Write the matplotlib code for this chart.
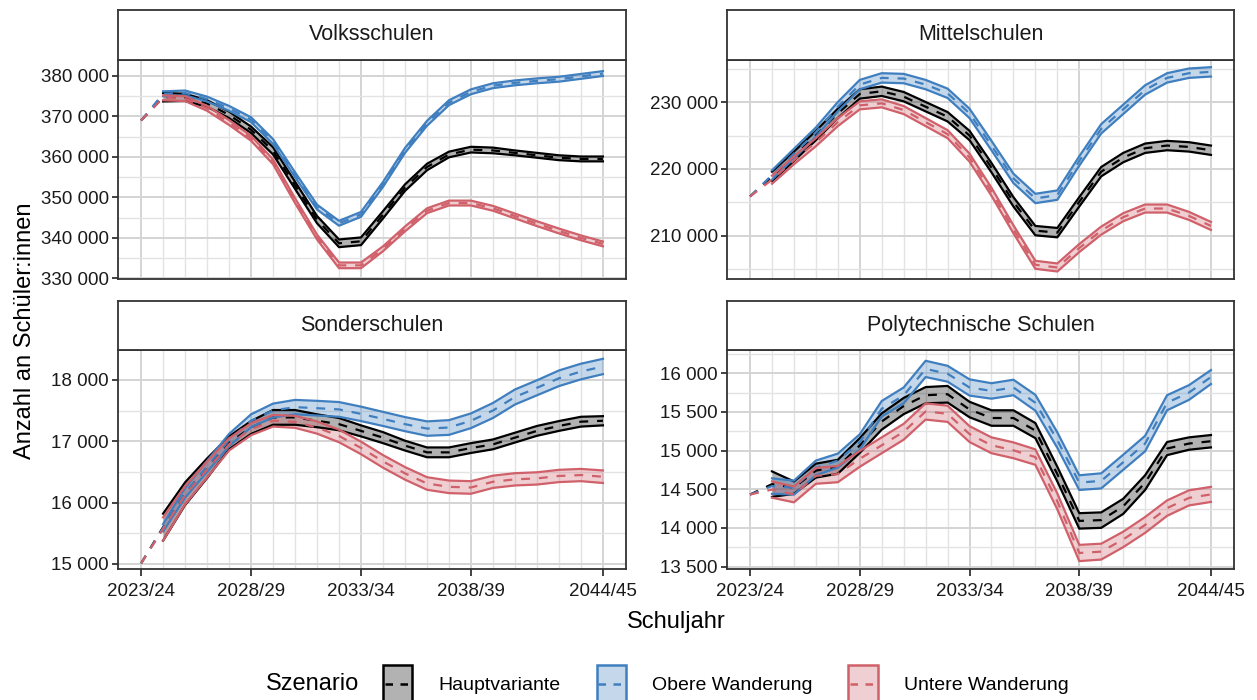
import numpy as np
import matplotlib
matplotlib.use('Agg')
import matplotlib.pyplot as plt
import matplotlib.ticker as mticker
from matplotlib.patches import Patch, Rectangle
from matplotlib.lines import Line2D
from matplotlib.colors import to_rgba

plt.rcParams['font.family'] = ['Liberation Sans', 'DejaVu Sans']

# school years on the x axis
school_years = ['2023/24', '2024/25', '2025/26', '2026/27', '2027/28', '2028/29', '2029/30',
                '2030/31', '2031/32', '2032/33', '2033/34', '2034/35', '2035/36', '2036/37',
                '2037/38', '2038/39', '2039/40', '2040/41', '2041/42', '2042/43', '2043/44',
                '2044/45']
shown_years = ['2023/24', '2028/29', '2033/34', '2038/39', '2044/45']
scenarios = ['Hauptvariante', 'Obere Wanderung', 'Untere Wanderung']
scenario_colors = ['#000000', '#3f7fbf', '#d0606a']

# Volksschulen (values from 2024/25 on: lower / upper edge of the band)
volks_start = 369000
volks_haupt_lo = [373700, 373800, 372400, 369600, 365900, 360600, 352100, 343600, 337700, 338200, 344800,
                  351600, 356700, 359900, 361100, 360900, 360400, 359800, 359200, 358900, 358900]
volks_haupt_hi = [375800, 375600, 374000, 371200, 367500, 362400, 353900, 345400, 339600, 340100, 346600,
                  353200, 358300, 361300, 362500, 362300, 361600, 361000, 360400, 360100, 360100]
volks_obere_lo = [375000, 375200, 373700, 371400, 368600, 363200, 355000, 347000, 343000, 345200, 352600,
                  361000, 367700, 372800, 375500, 377000, 377700, 378200, 378600, 379300, 380000]
volks_obere_hi = [376200, 376400, 374900, 372600, 369800, 364400, 356200, 348200, 344200, 346400, 353800,
                  362200, 368900, 374000, 376700, 378200, 378900, 379400, 379800, 380500, 381200]
volks_untere_lo = [374000, 373800, 371400, 367900, 364000, 358200, 348600, 339600, 332500, 332500, 336700,
                   341600, 346100, 348000, 348000, 346700, 344800, 342900, 341100, 339400, 337900]
volks_untere_hi = [375200, 375000, 372600, 369100, 365200, 359400, 349800, 340800, 333900, 333900, 337900,
                   342800, 347300, 349200, 349200, 347900, 346000, 344100, 342300, 340600, 339100]

# Mittelschulen
mittel_start = 215900
mittel_haupt_lo = [218200, 221200, 224300, 227600, 230500, 230900, 230100, 228600, 227100, 224300, 219500,
                   214400, 210100, 209800, 214400, 218900, 221000, 222400, 222800, 222600, 222100]
mittel_haupt_hi = [219600, 222600, 225700, 229000, 231900, 232300, 231500, 230000, 228500, 225700, 220900,
                   215800, 211500, 211200, 215800, 220300, 222400, 223800, 224200, 224000, 223500]
mittel_obere_lo = [218400, 221600, 224800, 228600, 231900, 232900, 232800, 231900, 230600, 227600, 222800,
                   217900, 214900, 215400, 220500, 225300, 228200, 231100, 232900, 233600, 233800]
mittel_obere_hi = [219800, 223000, 226200, 230000, 233300, 234300, 234200, 233300, 232000, 229000, 224200,
                   219300, 216300, 216800, 221900, 226700, 229600, 232500, 234300, 235000, 235200]
mittel_untere_lo = [217800, 220700, 223400, 226400, 228900, 229200, 228200, 226400, 224600, 221100, 216000,
                    210400, 205100, 204700, 207600, 210200, 212200, 213500, 213500, 212400, 210900]
mittel_untere_hi = [219000, 221900, 224600, 227600, 230100, 230400, 229400, 227600, 225800, 222300, 217200,
                    211600, 206300, 205900, 208800, 211400, 213400, 214700, 214700, 213600, 212100]

# Sonderschulen
sonder_start = 15010
sonder_haupt_lo = [15380, 15960, 16400, 16870, 17120, 17270, 17270, 17230, 17180, 17080, 16970,
                   16850, 16740, 16740, 16810, 16870, 16980, 17090, 17170, 17240, 17260]
sonder_haupt_hi = [15820, 16330, 16720, 17080, 17330, 17510, 17510, 17440, 17380, 17260, 17150,
                   17010, 16900, 16900, 16970, 17030, 17140, 17250, 17330, 17400, 17410]
sonder_obere_lo = [15530, 16080, 16500, 16920, 17230, 17390, 17440, 17420, 17400, 17330, 17250,
                   17165, 17090, 17105, 17215, 17380, 17600, 17750, 17900, 18010, 18095]
sonder_obere_hi = [15650, 16240, 16680, 17120, 17440, 17615, 17675, 17660, 17640, 17565, 17480,
                   17395, 17325, 17345, 17455, 17625, 17845, 17995, 18155, 18265, 18345]
sonder_untere_lo = [15380, 15970, 16410, 16850, 17100, 17240, 17220, 17125, 16985, 16790, 16570,
                    16375, 16210, 16155, 16145, 16240, 16280, 16295, 16335, 16350, 16320]
sonder_untere_hi = [15760, 16270, 16670, 17050, 17295, 17430, 17415, 17325, 17190, 16995, 16775,
                    16580, 16415, 16360, 16350, 16440, 16480, 16495, 16535, 16550, 16525]

# Polytechnische Schulen
poly_start = 14431
poly_haupt_lo = [14400, 14440, 14650, 14700, 14970, 15270, 15470, 15610, 15620, 15430, 15320,
                 15320, 15160, 14600, 13990, 14000, 14180, 14490, 14940, 15010, 15040]
poly_haupt_hi = [14730, 14600, 14830, 14880, 15160, 15480, 15680, 15820, 15835, 15630, 15520,
                 15520, 15355, 14790, 14190, 14200, 14375, 14680, 15110, 15170, 15200]
poly_obere_lo = [14440, 14430, 14680, 14780, 15010, 15440, 15610, 15950, 15890, 15710, 15670,
                 15715, 15515, 15035, 14490, 14510, 14750, 14990, 15520, 15655, 15860]
poly_obere_hi = [14640, 14610, 14870, 14960, 15210, 15640, 15815, 16160, 16095, 15920, 15870,
                 15915, 15720, 15235, 14680, 14705, 14945, 15190, 15715, 15845, 16040]
poly_untere_lo = [14390, 14330, 14570, 14590, 14790, 14965, 15140, 15400, 15370, 15110, 14965,
                  14900, 14815, 14240, 13570, 13590, 13750, 13935, 14155, 14290, 14335]
poly_untere_hi = [14600, 14535, 14775, 14800, 14995, 15170, 15345, 15610, 15580, 15315, 15170,
                  15105, 15015, 14445, 13780, 13795, 13950, 14140, 14355, 14485, 14530]

W, H = 1257, 700
fig = plt.figure(figsize=(W / 100, H / 100), dpi=100)


def box(x, y, w, h):
    # pixel box (top-left origin) -> figure fraction
    return [x / W, 1 - (y + h) / H, w / W, h / H]


class BandKey:
    # legend key: filled box with coloured border and a dashed line inside
    def legend_artist(self, legend, orig_handle, fontsize, handlebox):
        col = orig_handle.get_edgecolor()
        x0, y0 = -handlebox.xdescent, -handlebox.ydescent
        w, h = handlebox.width, handlebox.height
        tr = handlebox.get_transform()
        rect = Rectangle((x0, y0), w, h, facecolor=to_rgba(col, 0.3), edgecolor=col, lw=1.8,
                         transform=tr)
        line = Line2D([x0 + 0.06 * w, x0 + 0.94 * w], [y0 + h / 2, y0 + h / 2], color=col,
                      lw=1.8, ls=(0, (3, 3)), transform=tr)
        handlebox.add_artist(rect)
        handlebox.add_artist(line)
        return rect


panels = [
    ('Volksschulen', volks_start,
     [(volks_haupt_lo, volks_haupt_hi), (volks_obere_lo, volks_obere_hi), (volks_untere_lo, volks_untere_hi)],
     (329830, 383950), 10000, 5000, (118, 10, 508)),
    ('Mittelschulen', mittel_start,
     [(mittel_haupt_lo, mittel_haupt_hi), (mittel_obere_lo, mittel_obere_hi), (mittel_untere_lo, mittel_untere_hi)],
     (203580, 236270), 10000, 5000, (727, 10, 507)),
    ('Sonderschulen', sonder_start,
     [(sonder_haupt_lo, sonder_haupt_hi), (sonder_obere_lo, sonder_obere_hi), (sonder_untere_lo, sonder_untere_hi)],
     (14918, 18497), 1000, 500, (118, 301, 508)),
    ('Polytechnische Schulen', poly_start,
     [(poly_haupt_lo, poly_haupt_hi), (poly_obere_lo, poly_obere_hi), (poly_untere_lo, poly_untere_hi)],
     (13468, 16306), 500, 250, (727, 301, 507)),
]

x_all = np.arange(len(school_years))
x_proj = x_all[1:]
major_pos = [school_years.index(s) for s in shown_years]
edge = '#333333'

for i, (name, start, bands, ylim, ymaj, ymin, (px, py, pw)) in enumerate(panels):
    strip_h = 50 if py < 100 else 48.5
    plot_h = 219 if py < 100 else 219.5
    ax = fig.add_axes(box(px, py + strip_h, pw, plot_h))
    sax = fig.add_axes(box(px, py, pw, strip_h))

    for (lo, hi), col in zip(bands, scenario_colors):
        lo = np.array(lo, dtype=float)
        hi = np.array(hi, dtype=float)
        ax.fill_between(x_proj, lo, hi, color=col, alpha=0.3, lw=0, zorder=2)
        ax.plot(x_proj, lo, color=col, lw=1.6, zorder=3)
        ax.plot(x_proj, hi, color=col, lw=1.6, zorder=3)
        mid = np.concatenate([[start], (lo + hi) / 2])
        ax.plot(x_all, mid, color=col, lw=1.6, ls=(0, (4, 4)), zorder=3)

    ax.set_xlim(-1.05, 22.05)
    ax.set_ylim(*ylim)
    ax.xaxis.set_major_locator(mticker.FixedLocator(major_pos))
    ax.xaxis.set_minor_locator(mticker.FixedLocator(list(x_all)))
    ax.yaxis.set_major_locator(mticker.MultipleLocator(ymaj))
    ax.yaxis.set_minor_locator(mticker.MultipleLocator(ymin))
    ax.yaxis.set_major_formatter(mticker.FuncFormatter(lambda v, p: f'{int(round(v)):,}'.replace(',', ' ')))
    ax.grid(which='major', color='#d4d4d4', lw=1.4, zorder=0)
    ax.grid(which='minor', color='#e3e3e3', lw=1.0, zorder=0)
    ax.set_axisbelow(True)
    ax.tick_params(axis='y', which='major', length=4, width=1.3, color=edge, labelsize=13.5,
                   pad=2.5, labelcolor='#1a1a1a')
    ax.tick_params(which='minor', length=0)
    if i >= 2:
        ax.set_xticklabels(shown_years)
        ax.tick_params(axis='x', which='major', length=5, width=1.3, color=edge, labelsize=13.5,
                       pad=5, labelcolor='#1a1a1a')
    else:
        ax.tick_params(axis='x', which='major', length=0, labelbottom=False)
    for sp in ax.spines.values():
        sp.set_color(edge)
        sp.set_linewidth(1.3)

    sax.set_xticks([])
    sax.set_yticks([])
    sax.set_facecolor('white')
    for sp in sax.spines.values():
        sp.set_color(edge)
        sp.set_linewidth(1.3)
    sax.text(0.5, 0.5, name, ha='center', va='center', fontsize=15.5, color='#1a1a1a',
             transform=sax.transAxes)

fig.text(25 / W, 1 - 331 / H, 'Anzahl an Schüler:innen', rotation=90, ha='center', va='center',
         fontsize=17)
fig.text(676 / W, 1 - 622 / H, 'Schuljahr', ha='center', va='center', fontsize=17)
fig.text(266 / W, 1 - 684 / H, 'Szenario', ha='left', va='center', fontsize=17)

handles = [Patch(edgecolor=col, facecolor=col) for col in scenario_colors]
fig.legend(handles, scenarios, handler_map={Patch: BandKey()},
           loc='center left', bbox_to_anchor=(383 / W, 1 - 684 / H), ncol=3, frameon=False,
           fontsize=14, handlelength=1.5, handleheight=2.6, handletextpad=1.35,
           columnspacing=1.85, borderpad=0, borderaxespad=0)

fig.savefig('out.png', dpi=100)
